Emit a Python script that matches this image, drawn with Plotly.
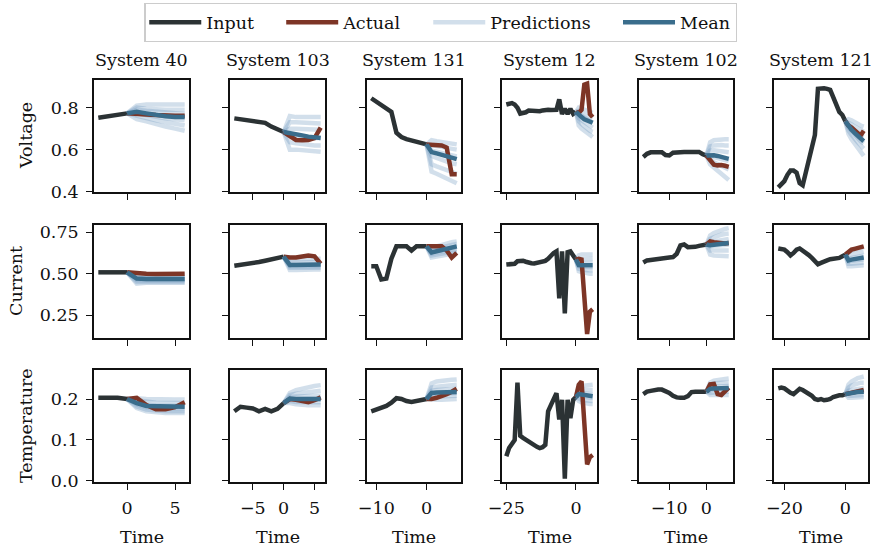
import plotly.graph_objects as go

# ---------------- data ----------------
systems = ["System 40", "System 103", "System 131", "System 12", "System 102", "System 121"]
input_start = [-3, -8, -11, -25, -17, -22]
horizon = [0, 1, 2, 3, 4, 5, 6]
variables = ["Voltage", "Current", "Temperature"]

voltage_input = [
    [0.752, 0.759, 0.766, 0.773],
    [0.749, 0.745, 0.740, 0.736, 0.731, 0.728, 0.710, 0.694, 0.684],
    [0.845, 0.830, 0.815, 0.800, 0.780, 0.680, 0.660, 0.650, 0.645, 0.635, 0.630, 0.625],
    [0.815, 0.818, 0.822, 0.815, 0.800, 0.772, 0.774, 0.778, 0.786, 0.785, 0.783, 0.781, 0.783,
     0.787, 0.790, 0.790, 0.789, 0.788, 0.790, 0.840, 0.770, 0.795, 0.770, 0.795, 0.770, 0.780],
    [0.565, 0.580, 0.587, 0.589, 0.589, 0.588, 0.574, 0.572, 0.585, 0.588, 0.589, 0.589, 0.589,
     0.589, 0.589, 0.589, 0.578, 0.572],
    [0.420, 0.435, 0.450, 0.480, 0.500, 0.500, 0.490, 0.440, 0.430, 0.490, 0.550, 0.610, 0.670,
     0.890, 0.893, 0.893, 0.890, 0.885, 0.850, 0.810, 0.780, 0.765, 0.735],
]
voltage_actual = [
    [0.768, 0.768, 0.765, 0.762, 0.762, 0.762],
    [0.665, 0.646, 0.645, 0.646, 0.655, 0.705],
    [0.624, 0.625, 0.620, 0.610, 0.483, 0.483],
    [0.775, 0.790, 0.910, 0.915, 0.770, 0.755],
    [0.550, 0.528, 0.525, 0.527, 0.523, 0.518],
    [0.715, 0.705, 0.695, 0.680, 0.668, 0.690],
]
voltage_mean = [
    [0.781, 0.773, 0.765, 0.759, 0.756, 0.756],
    [0.680, 0.675, 0.668, 0.662, 0.658, 0.655],
    [0.588, 0.582, 0.576, 0.570, 0.563, 0.555],
    [0.765, 0.755, 0.745, 0.738, 0.732, 0.728],
    [0.575, 0.573, 0.570, 0.565, 0.560, 0.556],
    [0.710, 0.695, 0.680, 0.665, 0.652, 0.640],
]
voltage_preds = [
    [[0.810, 0.815, 0.815, 0.815, 0.815, 0.815], [0.800, 0.795, 0.790, 0.790, 0.790, 0.790],
     [0.790, 0.785, 0.780, 0.775, 0.770, 0.770], [0.775, 0.765, 0.755, 0.750, 0.745, 0.740],
     [0.760, 0.750, 0.740, 0.730, 0.720, 0.715], [0.745, 0.735, 0.720, 0.710, 0.700, 0.690]],
    [[0.760, 0.755, 0.755, 0.755, 0.755, 0.755], [0.730, 0.730, 0.728, 0.728, 0.725, 0.725],
     [0.700, 0.700, 0.700, 0.695, 0.695, 0.695], [0.665, 0.665, 0.660, 0.655, 0.655, 0.655],
     [0.635, 0.630, 0.625, 0.620, 0.620, 0.620], [0.600, 0.600, 0.598, 0.595, 0.590, 0.590]],
    [[0.645, 0.640, 0.635, 0.630, 0.628, 0.625], [0.620, 0.615, 0.610, 0.605, 0.600, 0.600],
     [0.595, 0.590, 0.585, 0.578, 0.572, 0.568], [0.570, 0.560, 0.550, 0.540, 0.535, 0.530],
     [0.530, 0.520, 0.510, 0.500, 0.490, 0.485], [0.495, 0.485, 0.475, 0.460, 0.450, 0.440]],
    [[0.800, 0.795, 0.790, 0.785, 0.780, 0.775], [0.785, 0.775, 0.765, 0.760, 0.755, 0.750],
     [0.770, 0.760, 0.750, 0.740, 0.735, 0.730], [0.750, 0.740, 0.730, 0.720, 0.712, 0.705],
     [0.735, 0.722, 0.710, 0.700, 0.690, 0.685], [0.715, 0.700, 0.690, 0.680, 0.670, 0.660]],
    [[0.635, 0.645, 0.648, 0.650, 0.650, 0.650], [0.615, 0.620, 0.622, 0.622, 0.620, 0.620],
     [0.595, 0.597, 0.595, 0.592, 0.590, 0.588], [0.570, 0.565, 0.560, 0.555, 0.550, 0.545],
     [0.550, 0.540, 0.530, 0.520, 0.510, 0.505], [0.530, 0.515, 0.500, 0.485, 0.470, 0.455]],
    [[0.745, 0.740, 0.730, 0.720, 0.715, 0.710], [0.730, 0.720, 0.710, 0.700, 0.690, 0.685],
     [0.720, 0.700, 0.690, 0.675, 0.665, 0.660], [0.705, 0.690, 0.670, 0.655, 0.640, 0.630],
     [0.690, 0.670, 0.650, 0.635, 0.620, 0.605], [0.675, 0.650, 0.630, 0.610, 0.590, 0.570]],
]

current_input = [
    [0.508, 0.508, 0.508, 0.508],
    [0.548, 0.552, 0.556, 0.561, 0.570, 0.578, 0.585, 0.592, 0.603],
    [0.545, 0.545, 0.465, 0.470, 0.590, 0.665, 0.665, 0.665, 0.640, 0.665, 0.665, 0.665],
    [0.555, 0.556, 0.558, 0.560, 0.575, 0.580, 0.578, 0.572, 0.566, 0.563, 0.562, 0.565, 0.570,
     0.576, 0.577, 0.590, 0.610, 0.625, 0.635, 0.350, 0.635, 0.260, 0.630, 0.635, 0.610, 0.585],
    [0.567, 0.580, 0.583, 0.587, 0.590, 0.592, 0.595, 0.597, 0.600, 0.620, 0.670, 0.676, 0.660,
     0.660, 0.662, 0.668, 0.672, 0.676],
    [0.652, 0.650, 0.645, 0.630, 0.610, 0.625, 0.645, 0.652, 0.640, 0.625, 0.612, 0.595, 0.575,
     0.557, 0.565, 0.575, 0.580, 0.587, 0.590, 0.592, 0.595, 0.605, 0.615],
]
current_actual = [
    [0.502, 0.500, 0.498, 0.498, 0.498, 0.500],
    [0.597, 0.598, 0.605, 0.610, 0.605, 0.560],
    [0.665, 0.665, 0.665, 0.640, 0.597, 0.625],
    [0.590, 0.585, 0.350, 0.135, 0.270, 0.285],
    [0.695, 0.690, 0.685, 0.680, 0.682, 0.685],
    [0.632, 0.645, 0.650, 0.655, 0.660, 0.665],
]
current_mean = [
    [0.470, 0.468, 0.468, 0.468, 0.468, 0.468],
    [0.552, 0.552, 0.552, 0.553, 0.554, 0.555],
    [0.628, 0.635, 0.642, 0.650, 0.657, 0.665],
    [0.552, 0.550, 0.550, 0.550, 0.550, 0.550],
    [0.672, 0.675, 0.678, 0.680, 0.682, 0.685],
    [0.580, 0.585, 0.588, 0.592, 0.595, 0.598],
]
current_preds = [
    [[0.490, 0.490, 0.490, 0.490, 0.490, 0.490], [0.480, 0.478, 0.478, 0.478, 0.478, 0.478],
     [0.470, 0.468, 0.468, 0.468, 0.468, 0.468], [0.460, 0.458, 0.458, 0.458, 0.458, 0.458],
     [0.450, 0.450, 0.450, 0.450, 0.450, 0.450], [0.440, 0.445, 0.445, 0.445, 0.445, 0.445]],
    [[0.585, 0.585, 0.587, 0.590, 0.590, 0.590], [0.568, 0.568, 0.570, 0.570, 0.570, 0.570],
     [0.555, 0.555, 0.555, 0.555, 0.555, 0.555], [0.545, 0.545, 0.545, 0.545, 0.545, 0.545],
     [0.535, 0.535, 0.535, 0.535, 0.535, 0.535], [0.522, 0.522, 0.525, 0.525, 0.525, 0.525]],
    [[0.655, 0.665, 0.675, 0.685, 0.690, 0.695], [0.645, 0.652, 0.660, 0.668, 0.675, 0.680],
     [0.632, 0.640, 0.645, 0.652, 0.660, 0.665], [0.620, 0.627, 0.633, 0.640, 0.645, 0.650],
     [0.610, 0.615, 0.620, 0.627, 0.632, 0.637], [0.598, 0.603, 0.610, 0.615, 0.620, 0.625]],
    [[0.610, 0.615, 0.615, 0.615, 0.615, 0.615], [0.585, 0.590, 0.590, 0.590, 0.590, 0.590],
     [0.565, 0.565, 0.565, 0.565, 0.565, 0.565], [0.545, 0.540, 0.540, 0.540, 0.540, 0.540],
     [0.530, 0.525, 0.520, 0.520, 0.520, 0.520], [0.515, 0.510, 0.505, 0.500, 0.500, 0.500]],
    [[0.730, 0.745, 0.755, 0.765, 0.770, 0.775], [0.710, 0.720, 0.730, 0.735, 0.740, 0.742],
     [0.690, 0.695, 0.700, 0.705, 0.710, 0.710], [0.665, 0.668, 0.670, 0.672, 0.675, 0.675],
     [0.640, 0.640, 0.640, 0.640, 0.640, 0.640], [0.615, 0.610, 0.608, 0.605, 0.605, 0.605]],
    [[0.630, 0.640, 0.645, 0.650, 0.655, 0.660], [0.610, 0.615, 0.620, 0.625, 0.630, 0.632],
     [0.590, 0.595, 0.600, 0.602, 0.605, 0.608], [0.575, 0.578, 0.580, 0.582, 0.585, 0.587],
     [0.560, 0.560, 0.562, 0.565, 0.565, 0.567], [0.545, 0.545, 0.545, 0.548, 0.548, 0.550]],
]

temperature_input = [
    [0.203, 0.203, 0.203, 0.200],
    [0.170, 0.181, 0.179, 0.177, 0.170, 0.176, 0.170, 0.176, 0.190],
    [0.170, 0.174, 0.179, 0.183, 0.191, 0.202, 0.200, 0.195, 0.193, 0.196, 0.199, 0.200],
    [0.060, 0.080, 0.090, 0.100, 0.240, 0.110, 0.105, 0.100, 0.097, 0.092, 0.088, 0.083, 0.080,
     0.082, 0.088, 0.170, 0.185, 0.200, 0.214, 0.150, 0.198, 0.005, 0.198, 0.153, 0.198, 0.205],
    [0.212, 0.218, 0.220, 0.222, 0.223, 0.223, 0.220, 0.215, 0.208, 0.204, 0.203, 0.203, 0.207,
     0.217, 0.218, 0.218, 0.218, 0.218],
    [0.226, 0.228, 0.226, 0.220, 0.215, 0.212, 0.218, 0.225, 0.222, 0.218, 0.215, 0.208, 0.200,
     0.198, 0.200, 0.197, 0.198, 0.200, 0.205, 0.208, 0.209, 0.209, 0.212],
]
temperature_actual = [
    [0.203, 0.185, 0.175, 0.175, 0.180, 0.192],
    [0.200, 0.198, 0.196, 0.192, 0.197, 0.204],
    [0.200, 0.203, 0.207, 0.212, 0.218, 0.225],
    [0.235, 0.243, 0.140, 0.040, 0.058, 0.063],
    [0.236, 0.237, 0.212, 0.210, 0.218, 0.228],
    [0.214, 0.216, 0.218, 0.219, 0.220, 0.222],
]
temperature_mean = [
    [0.190, 0.183, 0.182, 0.181, 0.181, 0.181],
    [0.201, 0.200, 0.200, 0.200, 0.200, 0.200],
    [0.215, 0.216, 0.216, 0.217, 0.217, 0.217],
    [0.212, 0.211, 0.210, 0.209, 0.208, 0.207],
    [0.225, 0.226, 0.226, 0.226, 0.227, 0.227],
    [0.214, 0.215, 0.216, 0.217, 0.217, 0.218],
]
temperature_preds = [
    [[0.202, 0.200, 0.199, 0.199, 0.199, 0.199], [0.197, 0.193, 0.191, 0.190, 0.190, 0.190],
     [0.192, 0.186, 0.184, 0.183, 0.183, 0.183], [0.187, 0.180, 0.177, 0.176, 0.176, 0.176],
     [0.182, 0.174, 0.171, 0.170, 0.170, 0.170], [0.178, 0.170, 0.167, 0.166, 0.166, 0.166]],
    [[0.215, 0.222, 0.226, 0.229, 0.232, 0.234], [0.210, 0.213, 0.215, 0.217, 0.218, 0.220],
     [0.205, 0.206, 0.207, 0.207, 0.208, 0.208], [0.200, 0.200, 0.200, 0.200, 0.200, 0.200],
     [0.195, 0.193, 0.192, 0.192, 0.192, 0.192], [0.190, 0.187, 0.185, 0.185, 0.185, 0.185]],
    [[0.238, 0.243, 0.245, 0.246, 0.247, 0.248], [0.228, 0.230, 0.232, 0.233, 0.234, 0.235],
     [0.220, 0.222, 0.222, 0.223, 0.224, 0.225], [0.213, 0.213, 0.214, 0.214, 0.215, 0.215],
     [0.205, 0.206, 0.206, 0.207, 0.207, 0.208], [0.198, 0.198, 0.198, 0.199, 0.200, 0.200]],
    [[0.228, 0.232, 0.233, 0.234, 0.235, 0.235], [0.222, 0.222, 0.222, 0.222, 0.222, 0.222],
     [0.215, 0.214, 0.213, 0.212, 0.212, 0.212], [0.208, 0.206, 0.205, 0.204, 0.203, 0.203],
     [0.200, 0.198, 0.197, 0.196, 0.195, 0.195], [0.195, 0.192, 0.190, 0.189, 0.188, 0.188]],
    [[0.240, 0.245, 0.247, 0.248, 0.249, 0.250], [0.235, 0.238, 0.240, 0.240, 0.240, 0.240],
     [0.228, 0.230, 0.231, 0.232, 0.232, 0.232], [0.222, 0.223, 0.224, 0.224, 0.225, 0.225],
     [0.215, 0.216, 0.216, 0.217, 0.217, 0.218], [0.210, 0.210, 0.210, 0.210, 0.210, 0.210]],
    [[0.235, 0.243, 0.248, 0.251, 0.253, 0.255], [0.228, 0.233, 0.236, 0.238, 0.240, 0.240],
     [0.220, 0.222, 0.224, 0.225, 0.226, 0.227], [0.214, 0.215, 0.216, 0.217, 0.217, 0.218],
     [0.208, 0.208, 0.209, 0.209, 0.210, 0.210], [0.203, 0.203, 0.204, 0.204, 0.205, 0.205]],
]

inputs = [voltage_input, current_input, temperature_input]
actuals = [voltage_actual, current_actual, temperature_actual]
means = [voltage_mean, current_mean, temperature_mean]
preds = [voltage_preds, current_preds, temperature_preds]

# ---------------- style / layout ----------------
W, H = 878, 548
FONT = "DejaVu Serif"
FS = 17.5
C_INPUT = "#2b3234"
C_ACTUAL = "#7d3526"
C_PRED = "rgba(105,150,190,0.30)"
C_MEAN = "#3a6d8c"
PAD = "\u00a0\u00a0\u00a0\u00a0"   # legend spacing

col_px = [(94, 189), (230, 325), (367, 461), (502, 597), (639, 733), (774, 868)]
row_px = [(80, 192), (225, 338), (370, 482)]
y_ranges = [[0.398, 0.932], [0.111, 0.794], [-0.003, 0.271]]
y_dticks = [0.2, 0.25, 0.1]
y_formats = [".1f", ".2f", ".1f"]
x_dticks = [5, 5, 10, 25, 10, 20]

fig = go.Figure()
layout = dict(
    width=W, height=H,
    margin=dict(l=0, r=0, t=0, b=0),
    paper_bgcolor="white", plot_bgcolor="white",
    font=dict(family=FONT, size=FS, color="#111111"),
    showlegend=True,
    legend=dict(orientation="h", x=0.502, xanchor="center", y=1 - 3 / H, yanchor="top",
                bordercolor="#cccccc", borderwidth=1.3, bgcolor="white",
                font=dict(family=FONT, size=FS), itemwidth=52, tracegroupgap=0),
)
annotations = []

for r in range(3):
    for c in range(6):
        k = r * 6 + c + 1
        xs = "x" if k == 1 else f"x{k}"
        ys = "y" if k == 1 else f"y{k}"
        t_in = list(range(input_start[c], 1))
        y_in = inputs[r][c]
        last = y_in[-1]
        first = (r == 0 and c == 0)
        fig.add_trace(go.Scatter(x=t_in, y=y_in, mode="lines", name="Input" + PAD,
                                 line=dict(color=C_INPUT, width=4.5), legendrank=1,
                                 legendgroup="in", showlegend=first, xaxis=xs, yaxis=ys))
        for i, p in enumerate(preds[r][c]):
            fig.add_trace(go.Scatter(x=horizon, y=[last] + p, mode="lines", name="Predictions" + PAD,
                                     line=dict(color=C_PRED, width=4.5), legendrank=3,
                                     legendgroup="pred", showlegend=(first and i == 0),
                                     xaxis=xs, yaxis=ys))
        fig.add_trace(go.Scatter(x=horizon, y=[last] + actuals[r][c], mode="lines", name="Actual" + PAD,
                                 line=dict(color=C_ACTUAL, width=4.5), legendrank=2,
                                 legendgroup="act", showlegend=first, xaxis=xs, yaxis=ys))
        fig.add_trace(go.Scatter(x=horizon, y=[last] + means[r][c], mode="lines", name="Mean",
                                 line=dict(color=C_MEAN, width=4.5), legendrank=4,
                                 legendgroup="mean", showlegend=first, xaxis=xs, yaxis=ys))

        span = horizon[-1] - input_start[c]
        x0, x1 = col_px[c]
        y0, y1 = row_px[r]
        axcommon = dict(showgrid=False, zeroline=False, showline=True, mirror=True,
                        linecolor="#111111", linewidth=1.6, ticks="outside", ticklen=6,
                        tickwidth=1.4, tickcolor="#111111", automargin=False,
                        tickfont=dict(family=FONT, size=FS, color="#111111"))
        layout["xaxis" if k == 1 else f"xaxis{k}"] = dict(
            axcommon, domain=[x0 / W, x1 / W], anchor=ys,
            range=[input_start[c] - 0.05 * span, horizon[-1] + 0.05 * span],
            tick0=0, dtick=x_dticks[c], showticklabels=(r == 2), ticklabelstandoff=3)
        layout["yaxis" if k == 1 else f"yaxis{k}"] = dict(
            axcommon, domain=[1 - y1 / H, 1 - y0 / H], anchor=xs,
            range=y_ranges[r], tick0=0, dtick=y_dticks[r], tickformat=y_formats[r],
            showticklabels=(c == 0), ticklabelstandoff=4)

# column titles
for c in range(6):
    x0, x1 = col_px[c]
    annotations.append(dict(text=systems[c], x=(x0 + x1) / 2 / W, y=1 - 60 / H,
                            xref="paper", yref="paper", showarrow=False,
                            xanchor="center", yanchor="middle", font=dict(size=FS)))
    annotations.append(dict(text="Time", x=(x0 + x1) / 2 / W, y=1 - 537 / H,
                            xref="paper", yref="paper", showarrow=False,
                            xanchor="center", yanchor="middle", font=dict(size=FS)))
# row titles
row_title_x = [26, 15.5, 26]
for r in range(3):
    y0, y1 = row_px[r]
    annotations.append(dict(text=variables[r], x=row_title_x[r] / W, y=1 - (y0 + y1) / 2 / H,
                            xref="paper", yref="paper", showarrow=False, textangle=-90,
                            xanchor="center", yanchor="middle", font=dict(size=FS)))

layout["annotations"] = annotations
fig.update_layout(**layout)
fig.write_html("out.html")
